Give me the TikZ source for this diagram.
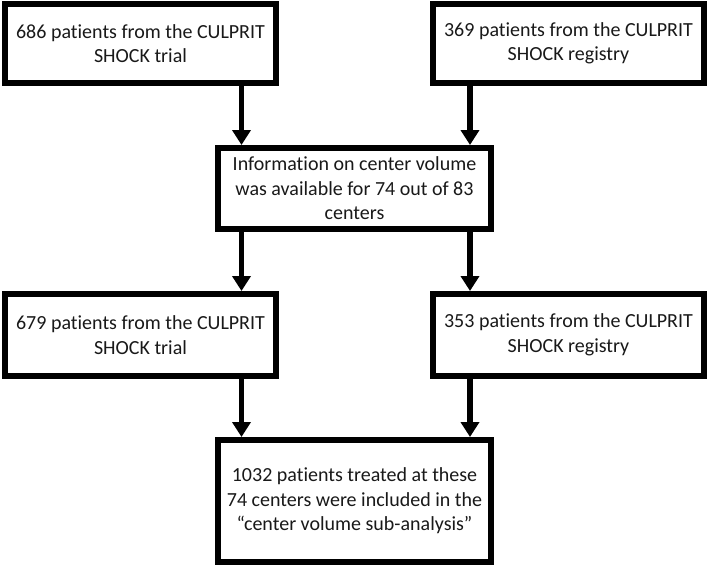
\documentclass[tikz,border=0pt]{standalone}
\usepackage{fontspec}
\setmainfont[Ligatures={NoCommon}]{Carlito}
\usetikzlibrary{arrows.meta}
\begin{document}
\begin{tikzpicture}[x=1pt,y=-1pt,
  box/.style={draw=black, line width=6pt, fill=white, align=center, inner sep=0pt,
    font=\fontsize{20}{24.5}\selectfont, text=black!90},
  arr/.style={line width=5.5pt, -{Triangle[width=18pt,length=15pt]}}]
\useasboundingbox (0,0) rectangle (709,566);
\node[box, minimum width=271pt, minimum height=79pt] (tl) at (140.5,43.5) {686 patients from the CULPRIT\\SHOCK trial};
\node[box, minimum width=271pt, minimum height=79pt] (tr) at (568.5,43.5) {369 patients from the CULPRIT\\SHOCK registry};
\node[box, minimum width=273pt, minimum height=81pt] (mid) at (354.5,188.5) {Information on center volume\\was available for 74 out of 83\\centers};
\node[box, minimum width=271pt, minimum height=82pt] (ml) at (140.5,335) {679 patients from the CULPRIT\\SHOCK trial};
\node[box, minimum width=271pt, minimum height=82pt] (mr) at (568.5,335) {353 patients from the CULPRIT\\SHOCK registry};
\node[box, minimum width=273pt, minimum height=122pt] (bot) at (354.5,501) {1032 patients treated at these\\74 centers were included in the\\“center volume sub-analysis”};
\coordinate (cL) at (241.5,0);
\coordinate (cR) at (470,0);
\draw[arr] (tl.south -| cL) -- (mid.north -| cL);
\draw[arr] (tr.south -| cR) -- (mid.north -| cR);
\draw[arr] (mid.south -| cL) -- (ml.north -| cL);
\draw[arr] (mid.south -| cR) -- (mr.north -| cR);
\draw[arr] (ml.south -| cL) -- (bot.north -| cL);
\draw[arr] (mr.south -| cR) -- (bot.north -| cR);
\end{tikzpicture}
\end{document}
